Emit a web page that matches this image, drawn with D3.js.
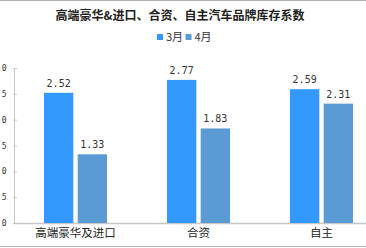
<!DOCTYPE html>
<html>
<head>
<meta charset="utf-8">
<script src="https://cdn.jsdelivr.net/npm/d3@7"></script>
<style>
	body { margin: 0; background: #fff; }
	svg { display: block; font-family: "Noto Sans CJK SC", sans-serif; }
</style>
</head>
<body>
<svg id="chart" width="366" height="248"></svg>
<script>
// data
var categories = ["高端豪华及进口", "合资", "自主"];
var seriesNames = ["3月", "4月"];
var march = [2.52, 2.77, 2.59];
var april = [1.33, 1.83, 2.31];
var yTicks = [0, 0.5, 1, 1.5, 2, 2.5, 3];

var colors = ["#3399ff", "#5b9bd5"];
var svg = d3.select("#chart");

// frame lines (top/bottom)
svg.append("line").attr("x1", 0).attr("x2", 366).attr("y1", 0.5).attr("y2", 0.5)
	.attr("stroke", "#b0b0b0");
svg.append("line").attr("x1", 0).attr("x2", 366).attr("y1", 246.5).attr("y2", 246.5)
	.attr("stroke", "#b0b0b0");

var plot = { left: 14, right: 383, top: 68, bottom: 223 };

var x = d3.scaleBand().domain(categories).range([plot.left, plot.right]);
var x1 = d3.scaleBand().domain(seriesNames).range([30, 93]).paddingInner(0.13);
var y = d3.scaleLinear().domain([0, 3]).range([plot.bottom, plot.top]);

// title
svg.append("text").attr("x", 180).attr("y", 20).attr("text-anchor", "middle")
	.attr("font-size", 12).attr("font-weight", "bold").attr("fill", "#222")
	.text("高端豪华&进口、合资、自主汽车品牌库存系数");

// legend
var lg = svg.append("g").attr("transform", "translate(157,34)");
seriesNames.forEach(function(s, i){
	var g = lg.append("g").attr("transform", "translate(" + (i * 28.5) + ",0)");
	g.append("rect").attr("width", 6).attr("height", 6).attr("fill", colors[i]);
	g.append("text").attr("x", 9).attr("y", 7).attr("font-size", 11).attr("fill", "#333").text(s);
});

// y axis (labels partly clipped at left edge like the reference)
var yAxis = d3.axisLeft(y).tickValues(yTicks).tickSize(0).tickPadding(7.5)
	.tickFormat(d3.format(".1f"));
var ya = svg.append("g").attr("transform", "translate(" + plot.left + ",0)").call(yAxis);
ya.select(".domain").attr("stroke", "#c8c8c8");
ya.selectAll("text").attr("font-size", 8).attr("fill", "#333")
	.attr("font-family", "DejaVu Sans Mono, monospace");
ya.selectAll(".tick").append("line").attr("x1", -1).attr("x2", 3).attr("stroke", "#c8c8c8");

// x axis
var xAxis = d3.axisBottom(x).tickSize(0).tickPadding(6);
var xa = svg.append("g").attr("transform", "translate(0," + plot.bottom + ")").call(xAxis);
xa.select(".domain").attr("stroke", "#c8c8c8").attr("stroke-width", 1.5);
xa.selectAll("text").attr("font-size", 11.5).attr("fill", "#222")
	.attr("font-family", "Noto Sans CJK SC, sans-serif");

// bars
var data = [march, april];
data.forEach(function(vals, si){
	var g = svg.append("g");
	g.selectAll("rect").data(vals).enter().append("rect")
		.attr("x", function(d, i){ return x(categories[i]) + x1(seriesNames[si]); })
		.attr("y", function(d){ return y(d); })
		.attr("width", x1.bandwidth())
		.attr("height", function(d){ return plot.bottom - y(d); })
		.attr("fill", colors[si]);
	g.selectAll("text").data(vals).enter().append("text")
		.attr("x", function(d, i){ return x(categories[i]) + x1(seriesNames[si]) + x1.bandwidth() / 2; })
		.attr("y", function(d){ return y(d) - 6; })
		.attr("text-anchor", "middle")
		.attr("font-size", 10).attr("fill", "#333")
		.attr("font-family", "DejaVu Sans Mono, monospace")
		.text(function(d){ return d3.format(".2f")(d); });
});
</script>
</body>
</html>
